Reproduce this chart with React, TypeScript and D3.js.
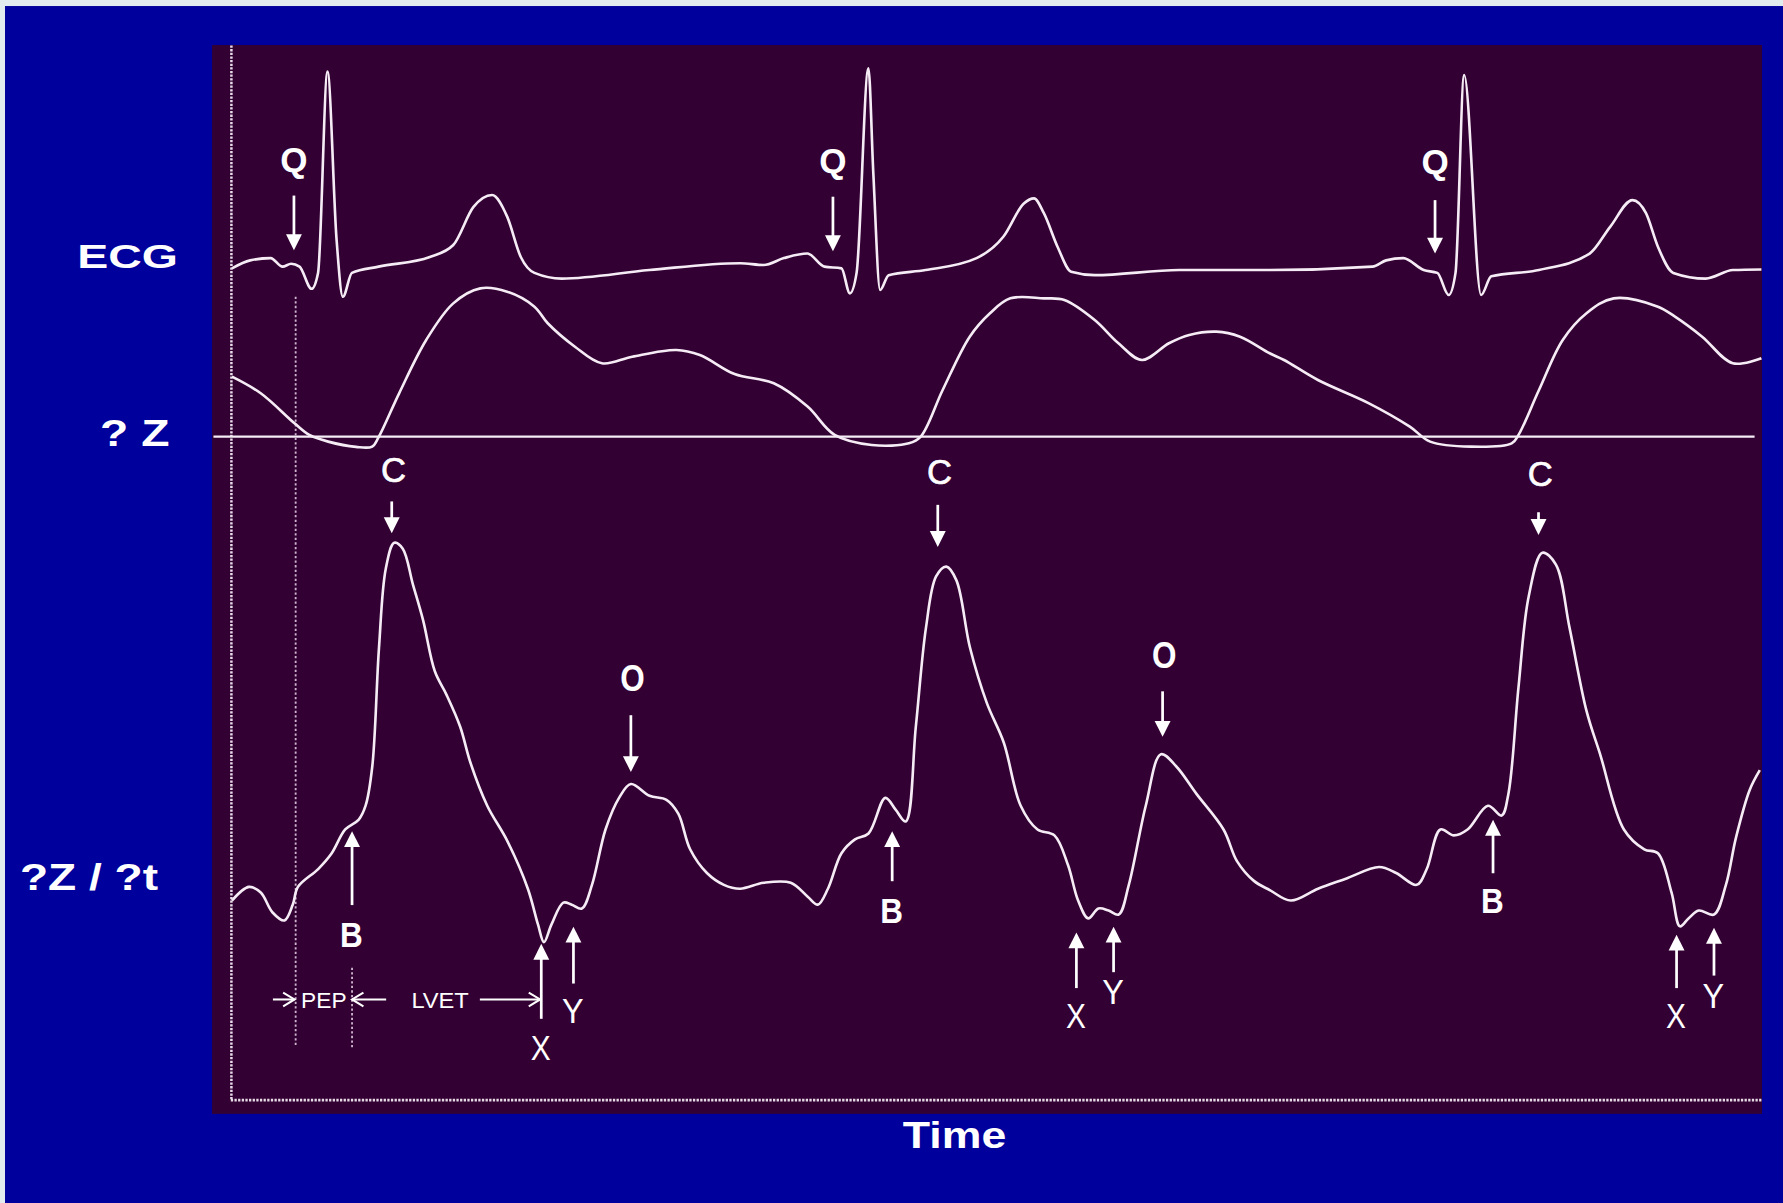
import React from 'react';
import * as d3 from 'd3';

// ---------- data (time in sample units from the left axis, amplitudes in arbitrary units) ----------
const ecgSamples: [number, number][] = [
  [0, 0], [16, 0.07], [34, 0.09], [44.5, 0.015], [52, 0.04], [59.4, 0.015], [70, -0.18], [75.7, -0.04],
  [84, 1.73], [92, 0.25], [97.5, -0.25], [105.5, -0.04], [129, 0.015], [174, 0.1], [194.6, 0.205],
  [212.4, 0.54], [228.7, 0.645], [242, 0.455], [254, 0.1], [266, -0.04], [290, -0.09], [367, -0.015],
  [447, 0.045], [467.6, 0.03], [485.4, 0.09], [506, 0.13], [521, 0.015], [536, 0], [543.4, -0.22],
  [549.3, -0.04], [559.7, 1.76], [564, 0.84], [570, -0.19], [577.5, -0.06], [610, -0.015], [654.8, 0.09],
  [678.5, 0.28], [696.4, 0.57], [705.3, 0.615], [714, 0.485], [726, 0.19], [738, -0.03], [758.7, -0.06],
  [833, -0.015], [912.6, -0.015], [1003, 0.015], [1015, 0.07], [1030, 0.09], [1048, -0.015], [1060, -0.04],
  [1070, -0.235], [1076, -0.04], [1083.6, 1.7], [1098.5, -0.235], [1107.5, -0.07], [1149.4, -0.015],
  [1194, 0.13], [1212, 0.365], [1231.6, 0.6], [1243.5, 0.485], [1254, 0.19], [1267.5, -0.04],
  [1296, -0.09], [1320, -0.015], [1345, -0.01],
];

const dzSamples: [number, number][] = [
  [0, 0.527], [25.3, 0.381], [55, 0.117], [68, 0.015], [84.6, -0.044], [109, -0.09], [123.3, -0.088],
  [129.2, 0], [147, 0.381], [170.8, 0.85], [194.6, 1.172], [218.4, 1.304], [242, 1.275], [266, 1.143],
  [277.7, 0.997], [301.6, 0.791], [325.3, 0.645], [352, 0.703], [390.7, 0.762], [411.5, 0.718],
  [442, 0.55], [476.5, 0.469], [506.2, 0.264], [530, 0.015], [562.7, -0.074], [595.3, -0.059],
  [605.7, 0], [625, 0.41], [648.8, 0.879], [666.6, 1.085], [684.5, 1.216], [714.1, 1.216], [732, 1.202],
  [758.7, 1.026], [779.6, 0.821], [800.3, 0.674], [824, 0.821], [841.9, 0.894], [865.7, 0.923],
  [886.5, 0.879], [912.6, 0.733], [925.2, 0.674], [955, 0.498], [999.9, 0.293], [1035.8, 0.088],
  [1053.7, -0.044], [1089.6, -0.088], [1125.4, -0.059], [1131.4, 0.015], [1149.4, 0.41], [1170.3, 0.85],
  [1191.2, 1.085], [1215.1, 1.216], [1254, 1.143], [1269, 1.055], [1292.9, 0.879], [1319.8, 0.645],
  [1345, 0.689],
];

const dzdtSamples: [number, number][] = [
  [0, 0], [14.9, 0.12], [25.3, 0.07], [35.7, -0.105], [46.1, -0.175], [53.5, -0.035], [58, 0.12],
  [75.8, 0.277], [87.7, 0.416], [99.6, 0.625], [111.5, 0.712], [117.5, 0.834], [123.4, 1.181],
  [129.3, 2.225], [135.3, 2.92], [142.7, 3.146], [150.2, 3.094], [159.1, 2.781], [168, 2.468],
  [178.4, 2.016], [188.8, 1.807], [200.7, 1.529], [209.6, 1.216], [224.5, 0.834], [242.3, 0.521],
  [260.2, 0.104], [269.1, -0.21], [274.4, -0.366], [281, -0.21], [291.4, -0.018], [298.8, -0.036],
  [307.7, -0.07], [316.6, 0.138], [328.5, 0.625], [340.4, 0.903], [350.8, 1.025], [367.2, 0.921],
  [382.1, 0.886], [392.5, 0.764], [402.9, 0.451], [417.7, 0.242], [432.6, 0.138], [446.8, 0.104],
  [467.6, 0.156], [491.4, 0.156], [506.3, 0.034], [515.2, -0.036], [524.1, 0.104], [536, 0.416],
  [547.9, 0.538], [559.8, 0.59], [574.6, 0.903], [583.6, 0.799], [592.5, 0.695], [601.4, 1.529],
  [610.3, 2.398], [619.2, 2.85], [628.2, 2.937], [637.1, 2.816], [649, 2.225], [663.8, 1.738],
  [678.7, 1.39], [693.6, 0.834], [708.4, 0.625], [723.3, 0.573], [735.2, 0.312], [744.1, 0],
  [753, -0.157], [762, -0.07], [770.9, -0.088], [779.8, -0.123], [788.7, 0.138], [803.6, 0.834],
  [817, 1.286], [830.3, 1.181], [848.2, 0.938], [872, 0.625], [883.8, 0.347], [898.7, 0.173],
  [913, 0.09], [931.2, 0], [955.1, 0.104], [979, 0.19], [1008.9, 0.295], [1023.8, 0.242],
  [1041.8, 0.138], [1050.7, 0.277], [1062.7, 0.625], [1074.6, 0.573], [1086.6, 0.625], [1104.5, 0.834],
  [1116.5, 0.747], [1122.5, 0.938], [1131.4, 1.877], [1140.4, 2.677], [1152.4, 3.059], [1164.3, 2.955],
  [1176.3, 2.398], [1191.2, 1.668], [1203.2, 1.286], [1224.1, 0.625], [1242, 0.451], [1254, 0.416],
  [1266, 0.069], [1273.4, -0.227], [1280.9, -0.157], [1289.9, -0.088], [1303.3, -0.123],
  [1313.8, 0.138], [1322.7, 0.556], [1334.7, 0.973], [1343.6, 1.147],
];

const traceLabels = ['ECG', '? Z', '?Z / ?t'];
const timeLabel = 'Time';

// annotated points: label, time, amplitude at arrow tip
const ecgMarks = [
  { label: 'Q', t: 54.5, v: 0.16 },
  { label: 'Q', t: 528.5, v: 0.15 },
  { label: 'Q', t: 1058, v: 0.13 },
];
const dzdtDownMarks = [
  { label: 'C', t: 140.5, v: 3.23 },
  { label: 'C', t: 620.7, v: 3.11 },
  { label: 'C', t: 1149, v: 3.215 },
  { label: 'O', t: 350.8, v: 1.13 },
  { label: 'O', t: 818.4, v: 1.44 },
];
const dzdtUpMarks = [
  { label: 'B', t: 105.6, v: 0.61 },
  { label: 'B', t: 580.6, v: 0.61 },
  { label: 'B', t: 1109, v: 0.71 },
  { label: 'X', t: 272, v: -0.38 },
  { label: 'X', t: 742.6, v: -0.28 },
  { label: 'X', t: 1270.4, v: -0.3 },
  { label: 'Y', t: 300.3, v: -0.23 },
  { label: 'Y', t: 775.3, v: -0.23 },
  { label: 'Y', t: 1303.3, v: -0.24 },
];
const qOnsetT = 56;
const intervals = [
  { label: 'PEP', from: 56, to: 105.6 },
  { label: 'LVET', from: 105.6, to: 272 },
];

// ---------- layout (arrow stem length / label distance, same order as the marks) ----------
const ecgMarkLayout = [[48, 80], [48, 80], [47, 81]];
const downLayout = [[28, 56], [37, 66], [20, 54], [50, 82], [40, 71.5]];
const upLayout = [[65, 91], [44, 70], [47, 71], [66, 91], [49, 73], [47, 71], [50, 74], [40, 57], [42, 59.5]];
const glyphWidth: Record<string, number> = { Q: 24, C: 22, O: 21.5, B: 20, X: 17.5, Y: 19 };
const glyphBold: Record<string, boolean> = { Q: true, C: false, O: true, B: true, X: false, Y: false };

const FONT = 'Liberation Sans, Arial, Helvetica, sans-serif';
const TRACE = '#f6ecf6';

export default function App() {
  const x = d3.scaleLinear().domain([0, 1345]).range([204, 1549]);
  const yEcg = d3.scaleLinear().domain([0, 1]).range([236, 136]);
  const yDz = d3.scaleLinear().domain([0, 1]).range([384, 284]);
  const yDzdt = d3.scaleLinear().domain([0, 1]).range([792, 692]);

  const ecgLine = d3.line<[number, number]>().x((d) => x(d[0])).y((d) => yEcg(d[1])).curve(d3.curveMonotoneX);
  const dzLine = d3.line<[number, number]>().x((d) => x(d[0])).y((d) => yDz(d[1])).curve(d3.curveCatmullRom.alpha(0.5));
  const dzdtLine = d3.line<[number, number]>().x((d) => x(d[0])).y((d) => yDzdt(d[1])).curve(d3.curveCatmullRom.alpha(0.5));

  const FS = 31;
  const head = 14;
  const hw = 7;

  const letter = (label: string, cx: number, cy: number, key: string) => {
    const w = glyphWidth[label];
    return (
      <text
        key={key}
        x={cx - w / 2}
        y={cy + 0.358 * FS}
        fontFamily={FONT}
        fontSize={label === 'O' ? 33 : FS}
        fontWeight={glyphBold[label] ? 'bold' : 'normal'}
        fill="#ffffff"
        stroke={label === 'C' ? '#ffffff' : 'none'}
        strokeWidth={label === 'C' ? 0.6 : 0}
        textLength={w}
        lengthAdjust="spacingAndGlyphs"
      >
        {label}
      </text>
    );
  };

  const downArrow = (X: number, Y: number, stem: number, key: string) => (
    <g key={key}>
      <line x1={X} y1={Y - stem} x2={X} y2={Y - head + 1} stroke="#ffffff" strokeWidth={2.4} />
      <path d={`M${X},${Y} L${X - hw},${Y - head} L${X + hw},${Y - head} Z`} fill="#ffffff" />
    </g>
  );
  const upArrow = (X: number, Y: number, stem: number, key: string) => (
    <g key={key}>
      <line x1={X} y1={Y + head - 1} x2={X} y2={Y + stem} stroke="#ffffff" strokeWidth={2.4} />
      <path d={`M${X},${Y} L${X - hw},${Y + head} L${X + hw},${Y + head} Z`} fill="#ffffff" />
    </g>
  );

  const rowY = 879;
  const chevron = (X: number, dir: number, key: string) => (
    <path
      key={key}
      d={`M${X - dir * 10},${rowY - 6} L${X},${rowY} L${X - dir * 10},${rowY + 6}`}
      stroke="#ffffff"
      strokeWidth={1.8}
      fill="none"
    />
  );

  const pep = intervals[0];
  const lvet = intervals[1];
  const pepMid = (x(pep.from) + x(pep.to)) / 2;
  const lvetMid = (x(lvet.from) + x(lvet.to)) / 2 - 6;

  return (
    <svg
      width={1783}
      height={1203}
      viewBox="0 0 1568 1058"
      preserveAspectRatio="none"
      style={{ position: 'absolute', left: 0, top: 0, display: 'block' }}
    >
      <rect x={0} y={0} width={1568} height={1058} fill="#00009c" />
      <rect x={0} y={0} width={1568} height={5.3} fill="#e2ebee" />
      <rect x={0} y={0} width={4.4} height={1058} fill="#e2ebee" />
      <rect x={186.5} y={39.6} width={1363} height={940} fill="#320032" />

      {/* frame lines */}
      <line x1={203.5} y1={40} x2={203.5} y2={968} stroke="#e8dbe8" strokeWidth={2.2} strokeDasharray="2 1.2" />
      <line x1={203} y1={967.5} x2={1549} y2={967.5} stroke="#e8dbe8" strokeWidth={2.4} strokeDasharray="2 1.2" />
      <line x1={187.7} y1={yDz(0)} x2={1543} y2={yDz(0)} stroke="#f6eef6" strokeWidth={2} />

      {/* guide lines */}
      <line x1={x(qOnsetT)} y1={261} x2={x(qOnsetT)} y2={920} stroke="#cdb6cd" strokeWidth={1.6} strokeDasharray="2 2" />
      <line x1={x(pep.to)} y1={851} x2={x(pep.to)} y2={921} stroke="#cdb6cd" strokeWidth={1.6} strokeDasharray="2 2" />

      {/* traces */}
      <path d={ecgLine(ecgSamples) || ''} fill="none" stroke={TRACE} strokeWidth={2.3} strokeLinejoin="round" />
      <path d={dzLine(dzSamples) || ''} fill="none" stroke={TRACE} strokeWidth={2.3} strokeLinejoin="round" />
      <path d={dzdtLine(dzdtSamples) || ''} fill="none" stroke={TRACE} strokeWidth={2.3} strokeLinejoin="round" />

      {/* ECG Q marks */}
      {ecgMarks.map((m, i) => {
        const X = x(m.t);
        const Y = yEcg(m.v);
        const [stem, gap] = ecgMarkLayout[i];
        return (
          <g key={`q${i}`}>
            {downArrow(X, Y, stem, `qa${i}`)}
            {letter(m.label, X, Y - gap, `ql${i}`)}
          </g>
        );
      })}

      {/* dZ/dt marks with down arrows */}
      {dzdtDownMarks.map((m, i) => {
        const X = x(m.t);
        const Y = yDzdt(m.v);
        const [stem, gap] = downLayout[i];
        return (
          <g key={`d${i}`}>
            {downArrow(X, Y, stem, `da${i}`)}
            {letter(m.label, X + 1.5, Y - gap, `dl${i}`)}
          </g>
        );
      })}

      {/* dZ/dt marks with up arrows */}
      {dzdtUpMarks.map((m, i) => {
        const X = x(m.t);
        const Y = yDzdt(m.v);
        const [stem, gap] = upLayout[i];
        return (
          <g key={`u${i}`}>
            {upArrow(X, Y, stem, `ua${i}`)}
            {letter(m.label, X - 0.5, Y + gap, `ul${i}`)}
          </g>
        );
      })}

      {/* PEP / LVET */}
      <line x1={x(pep.from) - 20} y1={rowY} x2={x(pep.from) - 1} y2={rowY} stroke="#ffffff" strokeWidth={1.8} />
      {chevron(x(pep.from) - 1, 1, 'c1')}
      <text x={pepMid - 20} y={rowY + 7.5} fontFamily={FONT} fontSize={20} fill="#ffffff" textLength={40} lengthAdjust="spacingAndGlyphs">
        {pep.label}
      </text>
      {chevron(x(pep.to), -1, 'c2')}
      <line x1={x(pep.to)} y1={rowY} x2={x(pep.to) + 30} y2={rowY} stroke="#ffffff" strokeWidth={1.8} />
      <text x={lvetMid - 25} y={rowY + 7.5} fontFamily={FONT} fontSize={20} fill="#ffffff" textLength={50.5} lengthAdjust="spacingAndGlyphs">
        {lvet.label}
      </text>
      <line x1={x(lvet.to) - 54} y1={rowY} x2={x(lvet.to) - 1} y2={rowY} stroke="#ffffff" strokeWidth={1.8} />
      {chevron(x(lvet.to) - 1, 1, 'c3')}

      {/* trace titles */}
      <text x={68} y={235.5} fontFamily={FONT} fontWeight="bold" fontSize={30} fill="#ffffff" textLength={88.5} lengthAdjust="spacingAndGlyphs">
        {traceLabels[0]}
      </text>
      <text x={88} y={392} fontFamily={FONT} fontWeight="bold" fontSize={32} fill="#ffffff" textLength={61} lengthAdjust="spacingAndGlyphs">
        {traceLabels[1]}
      </text>
      <text x={17.5} y={783} fontFamily={FONT} fontWeight="bold" fontSize={32} fill="#ffffff" textLength={121.5} lengthAdjust="spacingAndGlyphs">
        {traceLabels[2]}
      </text>
      <text x={794} y={1010} fontFamily={FONT} fontWeight="bold" fontSize={33} fill="#ffffff" textLength={91} lengthAdjust="spacingAndGlyphs">
        {timeLabel}
      </text>
    </svg>
  );
}
